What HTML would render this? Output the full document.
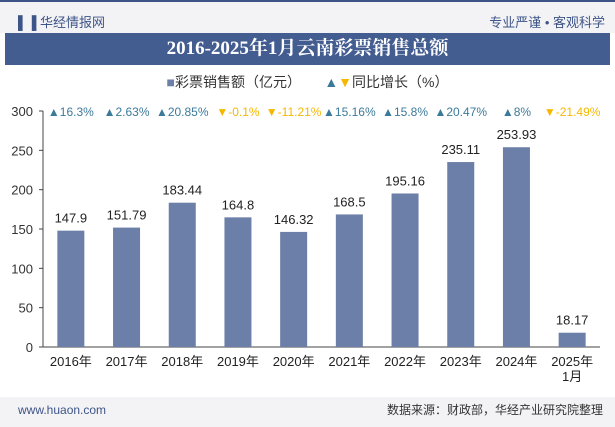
<!DOCTYPE html>
<html><head><meta charset="utf-8"><style>
body{margin:0;width:615px;height:427px;overflow:hidden;background:#fff;font-family:"Liberation Sans","Noto Sans CJK SC",sans-serif;position:relative}
.hd{position:absolute;left:0;top:0;width:615px;height:33px;background:#f3f3f5;border-top:2px solid #3d5488;box-sizing:border-box}
.tt{position:absolute;left:5px;top:33px;width:605px;height:32px;background:#445d91;color:#fff;font:bold 19px "Liberation Serif","Noto Serif CJK SC",serif;text-align:center;line-height:32px}
.ft{position:absolute;left:0;top:397px;width:615px;height:30px;background:#f3f3f5;font-size:12px;line-height:26px}
</style></head><body>
<div class="hd">
<span style="position:absolute;left:18px;top:10px;color:#3d5488;font-size:13px">▌▐ 华经情报网</span>
<span style="position:absolute;right:10px;top:10px;color:#3d5488;font-size:13px">专业严谨 • 客观科学</span>
</div>
<div class="tt">2016-2025年1月云南彩票销售总额</div>
<div style="position:absolute;left:0;top:72px;width:615px;text-align:center;font-size:14px;color:#333">
<span><span style="color:#6b7fa8">■</span>彩票销售额（亿元）</span>&nbsp;&nbsp;&nbsp;&nbsp;&nbsp;
<span><span style="color:#3c7a9a">▲</span><span style="color:#f5b800">▼</span>同比增长（%）</span>
</div>
<svg id="c" width="615" height="427" style="position:absolute;left:0;top:0"></svg>
<div class="ft">
<span style="position:absolute;left:18px;top:0;color:#3d5488">www.huaon.com</span>
<span style="position:absolute;right:12px;top:0;color:#333">数据来源：财政部，华经产业研究院整理</span>
</div>
<script>
const categories=["2016年","2017年","2018年","2019年","2020年","2021年","2022年","2023年","2024年","2025年\n1月"];
const sales=[147.9,151.79,183.44,164.8,146.32,168.5,195.16,235.11,253.93,18.17];
const growth=[16.3,2.63,20.85,-0.1,-11.21,15.16,15.8,20.47,8,-21.49];
const yTicks=[0,50,100,150,200,250,300];
const svg=document.getElementById('c');const NS='http://www.w3.org/2000/svg';
const y0=347,y1=111,x0=43,x1=600;
const y=v=>y0-(v/300)*(y0-y1);
const step=(x1-x0)/categories.length;
const xc=i=>x0+step*(i+0.5);
function mk(t,a,txt){const e=document.createElementNS(NS,t);for(const k in a)e.setAttribute(k,a[k]);if(txt!==undefined)e.textContent=txt;svg.appendChild(e);return e;}
let ax=mk('line',{x1:x0,y1:y1,x2:x0,y2:y0,stroke:'#444'});


let bx=mk('line',{x1:x0,y1:y0,x2:x1,y2:y0,stroke:'#444'});


yTicks.forEach(t=>{
 const l=mk('text',{x:x0-10,y:y(t)+5,'text-anchor':'end','font-size':13,fill:'#333'},t);
 
 
 mk('line',{x1:x0-4,y1:y(t),x2:x0,y2:y(t),stroke:'#444'});
});
categories.forEach((c,i)=>{
 const cx=xc(i),v=sales[i];
 const b=mk('rect',{x:cx-13.5,y:y(v),width:27,height:y0-y(v),fill:'#6b7fa8'});
 
 
 const vl=mk('text',{x:cx,y:y(v)-8,'text-anchor':'middle','font-size':13,fill:'#222'},v);
 
 
 c.split('\n').forEach((p,j)=>{
  const t=mk('text',{x:cx,y:366+j*15,'text-anchor':'middle','font-size':13,fill:'#222'},p);
  
  
 });
 const g=growth[i],up=g>=0;
 const gl=mk('text',{x:cx,y:116,'text-anchor':'middle','font-size':12,fill:up?'#3c7a9a':'#f5b800'},(up?'▲':'▼')+g+'%');
 
 
});
</script>
</body></html>
